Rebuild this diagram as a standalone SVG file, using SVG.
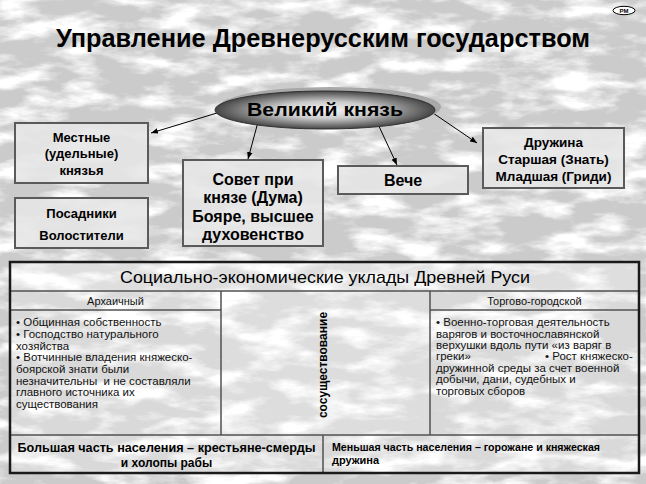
<svg xmlns="http://www.w3.org/2000/svg" width="646" height="484" viewBox="0 0 646 484">
<style>
  text { font-family: "Liberation Sans", Arial, sans-serif; fill: #000; }
  .title { font-size: 26px; font-weight: bold; }
  .bt { font-weight: bold; text-anchor: middle; }
  .box { fill: #e6e6e6; fill-opacity: 0.88; stroke: #5a5a5a; stroke-width: 2; }
  .conn { stroke: #000; stroke-width: 1; fill: none; marker-end: url(#arr); }
  .cell { fill: #ffffff; fill-opacity: 0.28; }
  .grid { stroke: #505050; stroke-width: 1.5; fill: none; }
  .body { font-size: 11.5px; fill: #111; }
  .hdr { font-size: 11px; text-anchor: middle; fill: #111; }
</style>
<defs>
  <filter id="tex" x="0" y="0" width="100%" height="100%">
    <feTurbulence type="fractalNoise" baseFrequency="0.02 0.055" numOctaves="5" seed="11"/>
    <feColorMatrix type="matrix" values="0 0 0 0 1  0 0 0 0 1  0 0 0 0 1  3.4 0 0 0 -1.45"/>
  </filter>
  <radialGradient id="eg" cx="0.5" cy="0.5" r="0.5">
    <stop offset="0" stop-color="#f6f6f6"/>
    <stop offset="0.45" stop-color="#cacaca"/>
    <stop offset="1" stop-color="#454545"/>
  </radialGradient>
  <marker id="arr" viewBox="0 0 10 10" refX="10" refY="5" markerWidth="7" markerHeight="7" orient="auto" markerUnits="userSpaceOnUse">
    <path d="M0,1 L10,5 L0,9 z" fill="#000"/>
  </marker>
</defs>

<rect x="0" y="0" width="646" height="484" fill="#cbcbcb"/>
<rect x="0" y="0" width="646" height="484" filter="url(#tex)"/>

<g id="badge">
  <ellipse cx="624" cy="10.5" rx="11" ry="4.2" fill="#fff" stroke="#000" stroke-width="1"/>
  <text x="624" y="12.6" font-size="6" font-weight="bold" text-anchor="middle">PM</text>
</g>

<text class="title" x="56" y="47" textLength="534" lengthAdjust="spacingAndGlyphs">Управление Древнерусским государством</text>

<g id="connectors">
  <line class="conn" x1="217" y1="113" x2="151" y2="133"/>
  <line class="conn" x1="258" y1="122" x2="248" y2="159"/>
  <line class="conn" x1="377" y1="122" x2="397" y2="165"/>
  <line class="conn" x1="433" y1="113" x2="477" y2="143"/>
</g>

<g id="grand-prince">
  <ellipse cx="330" cy="107" rx="111" ry="20" fill="#a8a8a8"/>
  <ellipse cx="325" cy="110" rx="110" ry="19" fill="url(#eg)" stroke="#333" stroke-width="1"/>
  <text x="325" y="115.5" font-size="19" class="bt" textLength="156" lengthAdjust="spacingAndGlyphs">Великий князь</text>
</g>

<g id="local-princes">
  <rect class="box" x="15" y="123" width="133" height="60"/>
  <text class="bt" font-size="13" x="81.5" y="142">Местные</text>
  <text class="bt" font-size="13" x="81.5" y="158">(удельные)</text>
  <text class="bt" font-size="13" x="81.5" y="175">князья</text>
</g>

<g id="posadniki">
  <rect class="box" x="15" y="198" width="133" height="50"/>
  <text class="bt" font-size="13" x="81.5" y="218">Посадники</text>
  <text class="bt" font-size="13" x="81.5" y="240">Волостители</text>
</g>

<g id="council">
  <rect class="box" x="183" y="160" width="140" height="86"/>
  <text class="bt" font-size="16" x="253" y="185">Совет при</text>
  <text class="bt" font-size="16" x="253" y="203">князе (Дума)</text>
  <text class="bt" font-size="16" x="253" y="222">Бояре, высшее</text>
  <text class="bt" font-size="16" x="253" y="240">духовенство</text>
</g>

<g id="veche">
  <rect class="box" x="338" y="166" width="130" height="28"/>
  <text class="bt" font-size="16" x="403" y="186">Вече</text>
</g>

<g id="druzhina">
  <rect class="box" x="483" y="128" width="141" height="60"/>
  <text class="bt" font-size="13.5" x="553.5" y="147">Дружина</text>
  <text class="bt" font-size="13.5" x="553.5" y="164">Старшая (Знать)</text>
  <text class="bt" font-size="13.5" x="553.5" y="181">Младшая (Гриди)</text>
</g>

<g id="table">
  <rect class="cell" x="10" y="262" width="629" height="211"/>
  <rect x="10" y="262" width="629" height="29" fill="#fff" fill-opacity="0.15"/>
  <rect x="221" y="291" width="209" height="144" fill="#fff" fill-opacity="0.12"/>
  <line class="grid" x1="10" y1="291" x2="639" y2="291"/>
  <line class="grid" x1="10" y1="310" x2="221" y2="310"/>
  <line class="grid" x1="430" y1="310" x2="639" y2="310"/>
  <line class="grid" x1="221" y1="291" x2="221" y2="435"/>
  <line class="grid" x1="430" y1="291" x2="430" y2="435"/>
  <line class="grid" x1="10" y1="435" x2="639" y2="435"/>
  <line class="grid" x1="323" y1="435" x2="323" y2="473"/>
  <rect x="10" y="262" width="629" height="211" fill="none" stroke="#1a1a1a" stroke-width="2.5"/>

  <text x="325" y="283" font-size="17" text-anchor="middle" textLength="410" lengthAdjust="spacingAndGlyphs">Социально-экономические уклады Древней Руси</text>
  <text class="hdr" x="115.5" y="305">Архаичный</text>
  <text class="hdr" x="534.5" y="305">Торгово-городской</text>

  <text class="body" x="16" y="326" xml:space="preserve"><tspan x="16" y="326">• Общинная собственность</tspan><tspan x="16" y="338">• Господство натурального</tspan><tspan x="16" y="349.5">хозяйства</tspan><tspan x="16" y="361">• Вотчинные владения княжеско-</tspan><tspan x="16" y="373">боярской знати были</tspan><tspan x="16" y="384.5">незначительны  и не составляли</tspan><tspan x="16" y="396">главного источника их</tspan><tspan x="16" y="408">существования</tspan></text>

  <text x="0" y="0" font-size="12" font-weight="bold" text-anchor="middle" transform="translate(327,365) rotate(-90)">сосуществование</text>

  <text class="body" x="436" y="326"><tspan x="436" y="326">• Военно-торговая деятельность</tspan><tspan x="436" y="337.5">варягов и восточнославянской</tspan><tspan x="436" y="349">верхушки вдоль пути «из варяг в</tspan><tspan x="436" y="360">греки»</tspan><tspan x="545" y="360">• Рост княжеско-</tspan><tspan x="436" y="371.5">дружинной среды за счет военной</tspan><tspan x="436" y="383">добычи, дани, судебных и</tspan><tspan x="436" y="394.5">торговых сборов</tspan></text>

  <text x="166.5" y="452" font-size="12" font-weight="bold" text-anchor="middle"><tspan x="166.5" y="452" textLength="298" lengthAdjust="spacingAndGlyphs">Большая часть населения – крестьяне-смерды</tspan><tspan x="166.5" y="467">и холопы рабы</tspan></text>
  <text x="332" y="451" font-size="11" font-weight="bold" fill="#222"><tspan x="332" y="451" textLength="268" lengthAdjust="spacingAndGlyphs">Меньшая часть населения – горожане и княжеская</tspan><tspan x="332" y="464">дружина</tspan></text>
</g>
</svg>
